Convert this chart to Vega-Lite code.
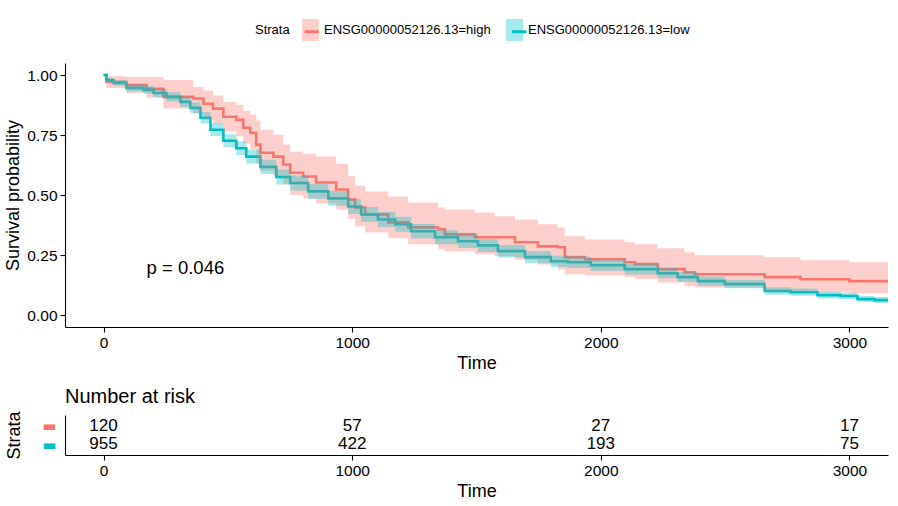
{
  "$schema": "https://vega.github.io/schema/vega-lite/v6.json",
  "background": "white",
  "padding": {"left": 4, "top": 19, "right": 8, "bottom": 5},
  "config": {
    "font": "Liberation Sans",
    "view": {"stroke": null},
    "axis": {"domainColor": "black", "tickColor": "black", "labelColor": "black", "titleColor": "black", "grid": false, "labelFont": "Liberation Sans", "titleFont": "Liberation Sans", "labelFontSize": 15.5, "titleFontSize": 18, "titleFontWeight": "normal", "tickSize": 5, "domainWidth": 1.1, "tickWidth": 1.1, "labelPadding": 3},
    "legend": {"labelFont": "Liberation Sans", "titleFont": "Liberation Sans"},
    "title": {"font": "Liberation Sans"}
  },
  "resolve": {"scale": {"fill": "independent", "stroke": "independent"}},
  "spacing": 13,
  "datasets": {
    "curves": [
      {"strata": "ENSG00000052126.13=high", "time": 0, "surv": 1.0},
      {"strata": "ENSG00000052126.13=high", "time": 12, "surv": 0.971},
      {"strata": "ENSG00000052126.13=high", "time": 92, "surv": 0.958},
      {"strata": "ENSG00000052126.13=high", "time": 173, "surv": 0.942},
      {"strata": "ENSG00000052126.13=high", "time": 241, "surv": 0.909},
      {"strata": "ENSG00000052126.13=high", "time": 361, "surv": 0.902},
      {"strata": "ENSG00000052126.13=high", "time": 402, "surv": 0.880},
      {"strata": "ENSG00000052126.13=high", "time": 440, "surv": 0.860},
      {"strata": "ENSG00000052126.13=high", "time": 482, "surv": 0.826},
      {"strata": "ENSG00000052126.13=high", "time": 534, "surv": 0.813},
      {"strata": "ENSG00000052126.13=high", "time": 562, "surv": 0.780},
      {"strata": "ENSG00000052126.13=high", "time": 590, "surv": 0.759},
      {"strata": "ENSG00000052126.13=high", "time": 614, "surv": 0.710},
      {"strata": "ENSG00000052126.13=high", "time": 631, "surv": 0.676},
      {"strata": "ENSG00000052126.13=high", "time": 683, "surv": 0.660},
      {"strata": "ENSG00000052126.13=high", "time": 723, "surv": 0.627},
      {"strata": "ENSG00000052126.13=high", "time": 751, "surv": 0.593},
      {"strata": "ENSG00000052126.13=high", "time": 803, "surv": 0.577},
      {"strata": "ENSG00000052126.13=high", "time": 855, "surv": 0.552},
      {"strata": "ENSG00000052126.13=high", "time": 936, "surv": 0.523},
      {"strata": "ENSG00000052126.13=high", "time": 984, "surv": 0.481},
      {"strata": "ENSG00000052126.13=high", "time": 1012, "surv": 0.448},
      {"strata": "ENSG00000052126.13=high", "time": 1052, "surv": 0.419},
      {"strata": "ENSG00000052126.13=high", "time": 1145, "surv": 0.386},
      {"strata": "ENSG00000052126.13=high", "time": 1225, "surv": 0.365},
      {"strata": "ENSG00000052126.13=high", "time": 1345, "surv": 0.357},
      {"strata": "ENSG00000052126.13=high", "time": 1373, "surv": 0.336},
      {"strata": "ENSG00000052126.13=high", "time": 1494, "surv": 0.324},
      {"strata": "ENSG00000052126.13=high", "time": 1655, "surv": 0.303},
      {"strata": "ENSG00000052126.13=high", "time": 1747, "surv": 0.286},
      {"strata": "ENSG00000052126.13=high", "time": 1827, "surv": 0.282},
      {"strata": "ENSG00000052126.13=high", "time": 1855, "surv": 0.241},
      {"strata": "ENSG00000052126.13=high", "time": 1936, "surv": 0.232},
      {"strata": "ENSG00000052126.13=high", "time": 2096, "surv": 0.220},
      {"strata": "ENSG00000052126.13=high", "time": 2137, "surv": 0.212},
      {"strata": "ENSG00000052126.13=high", "time": 2229, "surv": 0.191},
      {"strata": "ENSG00000052126.13=high", "time": 2337, "surv": 0.178},
      {"strata": "ENSG00000052126.13=high", "time": 2378, "surv": 0.170},
      {"strata": "ENSG00000052126.13=high", "time": 2659, "surv": 0.158},
      {"strata": "ENSG00000052126.13=high", "time": 2803, "surv": 0.149},
      {"strata": "ENSG00000052126.13=high", "time": 3000, "surv": 0.141},
      {"strata": "ENSG00000052126.13=high", "time": 3155, "surv": 0.141},
      {"strata": "ENSG00000052126.13=low", "time": 0, "surv": 1.0},
      {"strata": "ENSG00000052126.13=low", "time": 12, "surv": 0.979},
      {"strata": "ENSG00000052126.13=low", "time": 40, "surv": 0.967},
      {"strata": "ENSG00000052126.13=low", "time": 92, "surv": 0.946},
      {"strata": "ENSG00000052126.13=low", "time": 161, "surv": 0.938},
      {"strata": "ENSG00000052126.13=low", "time": 201, "surv": 0.925},
      {"strata": "ENSG00000052126.13=low", "time": 253, "surv": 0.909},
      {"strata": "ENSG00000052126.13=low", "time": 309, "surv": 0.888},
      {"strata": "ENSG00000052126.13=low", "time": 349, "surv": 0.863},
      {"strata": "ENSG00000052126.13=low", "time": 390, "surv": 0.822},
      {"strata": "ENSG00000052126.13=low", "time": 430, "surv": 0.772},
      {"strata": "ENSG00000052126.13=low", "time": 482, "surv": 0.726},
      {"strata": "ENSG00000052126.13=low", "time": 534, "surv": 0.695},
      {"strata": "ENSG00000052126.13=low", "time": 574, "surv": 0.660},
      {"strata": "ENSG00000052126.13=low", "time": 631, "surv": 0.617},
      {"strata": "ENSG00000052126.13=low", "time": 695, "surv": 0.575},
      {"strata": "ENSG00000052126.13=low", "time": 751, "surv": 0.550},
      {"strata": "ENSG00000052126.13=low", "time": 823, "surv": 0.515},
      {"strata": "ENSG00000052126.13=low", "time": 904, "surv": 0.486},
      {"strata": "ENSG00000052126.13=low", "time": 984, "surv": 0.452},
      {"strata": "ENSG00000052126.13=low", "time": 1036, "surv": 0.419},
      {"strata": "ENSG00000052126.13=low", "time": 1104, "surv": 0.398},
      {"strata": "ENSG00000052126.13=low", "time": 1173, "surv": 0.378},
      {"strata": "ENSG00000052126.13=low", "time": 1237, "surv": 0.349},
      {"strata": "ENSG00000052126.13=low", "time": 1333, "surv": 0.324},
      {"strata": "ENSG00000052126.13=low", "time": 1426, "surv": 0.307},
      {"strata": "ENSG00000052126.13=low", "time": 1506, "surv": 0.290},
      {"strata": "ENSG00000052126.13=low", "time": 1586, "surv": 0.266},
      {"strata": "ENSG00000052126.13=low", "time": 1695, "surv": 0.241},
      {"strata": "ENSG00000052126.13=low", "time": 1799, "surv": 0.224},
      {"strata": "ENSG00000052126.13=low", "time": 1867, "surv": 0.220},
      {"strata": "ENSG00000052126.13=low", "time": 1960, "surv": 0.207},
      {"strata": "ENSG00000052126.13=low", "time": 2096, "surv": 0.191},
      {"strata": "ENSG00000052126.13=low", "time": 2229, "surv": 0.174},
      {"strata": "ENSG00000052126.13=low", "time": 2309, "surv": 0.158},
      {"strata": "ENSG00000052126.13=low", "time": 2390, "surv": 0.141},
      {"strata": "ENSG00000052126.13=low", "time": 2498, "surv": 0.129},
      {"strata": "ENSG00000052126.13=low", "time": 2659, "surv": 0.100},
      {"strata": "ENSG00000052126.13=low", "time": 2763, "surv": 0.095},
      {"strata": "ENSG00000052126.13=low", "time": 2871, "surv": 0.083},
      {"strata": "ENSG00000052126.13=low", "time": 2964, "surv": 0.079},
      {"strata": "ENSG00000052126.13=low", "time": 3032, "surv": 0.066},
      {"strata": "ENSG00000052126.13=low", "time": 3100, "surv": 0.062},
      {"strata": "ENSG00000052126.13=low", "time": 3155, "surv": 0.058}
    ],
    "bands": [
      {"strata": "ENSG00000052126.13=high", "time": 0, "lower": 1.0, "upper": 1.0},
      {"strata": "ENSG00000052126.13=high", "time": 12, "lower": 0.946, "upper": 0.995},
      {"strata": "ENSG00000052126.13=high", "time": 92, "lower": 0.925, "upper": 0.992},
      {"strata": "ENSG00000052126.13=high", "time": 173, "lower": 0.905, "upper": 0.992},
      {"strata": "ENSG00000052126.13=high", "time": 241, "lower": 0.860, "upper": 0.979},
      {"strata": "ENSG00000052126.13=high", "time": 361, "lower": 0.840, "upper": 0.950},
      {"strata": "ENSG00000052126.13=high", "time": 402, "lower": 0.815, "upper": 0.935},
      {"strata": "ENSG00000052126.13=high", "time": 440, "lower": 0.795, "upper": 0.915},
      {"strata": "ENSG00000052126.13=high", "time": 482, "lower": 0.765, "upper": 0.888},
      {"strata": "ENSG00000052126.13=high", "time": 534, "lower": 0.745, "upper": 0.876},
      {"strata": "ENSG00000052126.13=high", "time": 562, "lower": 0.715, "upper": 0.850},
      {"strata": "ENSG00000052126.13=high", "time": 590, "lower": 0.690, "upper": 0.835},
      {"strata": "ENSG00000052126.13=high", "time": 614, "lower": 0.630, "upper": 0.810},
      {"strata": "ENSG00000052126.13=high", "time": 631, "lower": 0.600, "upper": 0.772},
      {"strata": "ENSG00000052126.13=high", "time": 683, "lower": 0.580, "upper": 0.751},
      {"strata": "ENSG00000052126.13=high", "time": 723, "lower": 0.545, "upper": 0.710},
      {"strata": "ENSG00000052126.13=high", "time": 751, "lower": 0.500, "upper": 0.680},
      {"strata": "ENSG00000052126.13=high", "time": 803, "lower": 0.485, "upper": 0.672},
      {"strata": "ENSG00000052126.13=high", "time": 855, "lower": 0.465, "upper": 0.660},
      {"strata": "ENSG00000052126.13=high", "time": 936, "lower": 0.440, "upper": 0.630},
      {"strata": "ENSG00000052126.13=high", "time": 984, "lower": 0.400, "upper": 0.580},
      {"strata": "ENSG00000052126.13=high", "time": 1012, "lower": 0.370, "upper": 0.540},
      {"strata": "ENSG00000052126.13=high", "time": 1052, "lower": 0.344, "upper": 0.515},
      {"strata": "ENSG00000052126.13=high", "time": 1145, "lower": 0.320, "upper": 0.494},
      {"strata": "ENSG00000052126.13=high", "time": 1225, "lower": 0.295, "upper": 0.469},
      {"strata": "ENSG00000052126.13=high", "time": 1345, "lower": 0.275, "upper": 0.448},
      {"strata": "ENSG00000052126.13=high", "time": 1373, "lower": 0.266, "upper": 0.440},
      {"strata": "ENSG00000052126.13=high", "time": 1494, "lower": 0.253, "upper": 0.427},
      {"strata": "ENSG00000052126.13=high", "time": 1574, "lower": 0.245, "upper": 0.411},
      {"strata": "ENSG00000052126.13=high", "time": 1655, "lower": 0.230, "upper": 0.398},
      {"strata": "ENSG00000052126.13=high", "time": 1747, "lower": 0.210, "upper": 0.378},
      {"strata": "ENSG00000052126.13=high", "time": 1827, "lower": 0.190, "upper": 0.365},
      {"strata": "ENSG00000052126.13=high", "time": 1855, "lower": 0.170, "upper": 0.328},
      {"strata": "ENSG00000052126.13=high", "time": 1936, "lower": 0.165, "upper": 0.315},
      {"strata": "ENSG00000052126.13=high", "time": 2096, "lower": 0.158, "upper": 0.303},
      {"strata": "ENSG00000052126.13=high", "time": 2137, "lower": 0.150, "upper": 0.295},
      {"strata": "ENSG00000052126.13=high", "time": 2229, "lower": 0.135, "upper": 0.278},
      {"strata": "ENSG00000052126.13=high", "time": 2337, "lower": 0.120, "upper": 0.261},
      {"strata": "ENSG00000052126.13=high", "time": 2378, "lower": 0.115, "upper": 0.249},
      {"strata": "ENSG00000052126.13=high", "time": 2659, "lower": 0.100, "upper": 0.241},
      {"strata": "ENSG00000052126.13=high", "time": 2803, "lower": 0.095, "upper": 0.228},
      {"strata": "ENSG00000052126.13=high", "time": 3000, "lower": 0.091, "upper": 0.220},
      {"strata": "ENSG00000052126.13=high", "time": 3155, "lower": 0.091, "upper": 0.220},
      {"strata": "ENSG00000052126.13=low", "time": 0, "lower": 1.0, "upper": 1.0},
      {"strata": "ENSG00000052126.13=low", "time": 12, "lower": 0.970, "upper": 0.988},
      {"strata": "ENSG00000052126.13=low", "time": 40, "lower": 0.955, "upper": 0.978},
      {"strata": "ENSG00000052126.13=low", "time": 92, "lower": 0.932, "upper": 0.960},
      {"strata": "ENSG00000052126.13=low", "time": 161, "lower": 0.922, "upper": 0.954},
      {"strata": "ENSG00000052126.13=low", "time": 201, "lower": 0.908, "upper": 0.942},
      {"strata": "ENSG00000052126.13=low", "time": 253, "lower": 0.890, "upper": 0.928},
      {"strata": "ENSG00000052126.13=low", "time": 309, "lower": 0.867, "upper": 0.909},
      {"strata": "ENSG00000052126.13=low", "time": 349, "lower": 0.841, "upper": 0.885},
      {"strata": "ENSG00000052126.13=low", "time": 390, "lower": 0.798, "upper": 0.846},
      {"strata": "ENSG00000052126.13=low", "time": 430, "lower": 0.746, "upper": 0.798},
      {"strata": "ENSG00000052126.13=low", "time": 482, "lower": 0.699, "upper": 0.753},
      {"strata": "ENSG00000052126.13=low", "time": 534, "lower": 0.667, "upper": 0.723},
      {"strata": "ENSG00000052126.13=low", "time": 574, "lower": 0.631, "upper": 0.689},
      {"strata": "ENSG00000052126.13=low", "time": 631, "lower": 0.587, "upper": 0.647},
      {"strata": "ENSG00000052126.13=low", "time": 695, "lower": 0.544, "upper": 0.606},
      {"strata": "ENSG00000052126.13=low", "time": 751, "lower": 0.519, "upper": 0.581},
      {"strata": "ENSG00000052126.13=low", "time": 823, "lower": 0.484, "upper": 0.546},
      {"strata": "ENSG00000052126.13=low", "time": 904, "lower": 0.455, "upper": 0.517},
      {"strata": "ENSG00000052126.13=low", "time": 984, "lower": 0.421, "upper": 0.483},
      {"strata": "ENSG00000052126.13=low", "time": 1036, "lower": 0.388, "upper": 0.450},
      {"strata": "ENSG00000052126.13=low", "time": 1104, "lower": 0.367, "upper": 0.429},
      {"strata": "ENSG00000052126.13=low", "time": 1173, "lower": 0.347, "upper": 0.409},
      {"strata": "ENSG00000052126.13=low", "time": 1237, "lower": 0.319, "upper": 0.379},
      {"strata": "ENSG00000052126.13=low", "time": 1333, "lower": 0.295, "upper": 0.353},
      {"strata": "ENSG00000052126.13=low", "time": 1426, "lower": 0.279, "upper": 0.335},
      {"strata": "ENSG00000052126.13=low", "time": 1506, "lower": 0.263, "upper": 0.317},
      {"strata": "ENSG00000052126.13=low", "time": 1586, "lower": 0.240, "upper": 0.292},
      {"strata": "ENSG00000052126.13=low", "time": 1695, "lower": 0.216, "upper": 0.266},
      {"strata": "ENSG00000052126.13=low", "time": 1799, "lower": 0.200, "upper": 0.248},
      {"strata": "ENSG00000052126.13=low", "time": 1867, "lower": 0.196, "upper": 0.244},
      {"strata": "ENSG00000052126.13=low", "time": 1960, "lower": 0.184, "upper": 0.230},
      {"strata": "ENSG00000052126.13=low", "time": 2096, "lower": 0.169, "upper": 0.213},
      {"strata": "ENSG00000052126.13=low", "time": 2229, "lower": 0.153, "upper": 0.195},
      {"strata": "ENSG00000052126.13=low", "time": 2309, "lower": 0.138, "upper": 0.178},
      {"strata": "ENSG00000052126.13=low", "time": 2390, "lower": 0.122, "upper": 0.160},
      {"strata": "ENSG00000052126.13=low", "time": 2498, "lower": 0.111, "upper": 0.147},
      {"strata": "ENSG00000052126.13=low", "time": 2659, "lower": 0.084, "upper": 0.116},
      {"strata": "ENSG00000052126.13=low", "time": 2763, "lower": 0.080, "upper": 0.110},
      {"strata": "ENSG00000052126.13=low", "time": 2871, "lower": 0.069, "upper": 0.097},
      {"strata": "ENSG00000052126.13=low", "time": 2964, "lower": 0.066, "upper": 0.093},
      {"strata": "ENSG00000052126.13=low", "time": 3032, "lower": 0.054, "upper": 0.079},
      {"strata": "ENSG00000052126.13=low", "time": 3100, "lower": 0.050, "upper": 0.075},
      {"strata": "ENSG00000052126.13=low", "time": 3155, "lower": 0.047, "upper": 0.071}
    ],
    "risk": [
      {"strata": "ENSG00000052126.13=high", "time": 0, "n": 120},
      {"strata": "ENSG00000052126.13=high", "time": 1000, "n": 57},
      {"strata": "ENSG00000052126.13=high", "time": 2000, "n": 27},
      {"strata": "ENSG00000052126.13=high", "time": 3000, "n": 17},
      {"strata": "ENSG00000052126.13=low", "time": 0, "n": 955},
      {"strata": "ENSG00000052126.13=low", "time": 1000, "n": 422},
      {"strata": "ENSG00000052126.13=low", "time": 2000, "n": 193},
      {"strata": "ENSG00000052126.13=low", "time": 3000, "n": 75}
    ],
    "pval": [{"time": 173, "surv": 0.195, "label": "p = 0.046"}]
  },
  "vconcat": [
    {
      "width": 823,
      "height": 264,
      "layer": [
        {
          "data": {"name": "curves"},
          "mark": {"type": "line", "interpolate": "step-after", "strokeWidth": 2.6, "clip": true},
          "encoding": {
            "x": {"field": "time", "type": "quantitative", "scale": {"domain": [-155, 3155], "nice": false, "zero": false}, "axis": {"values": [0, 1000, 2000, 3000], "format": "d", "title": "Time", "labelFlush": false}},
            "y": {"field": "surv", "type": "quantitative", "scale": {"domain": [-0.05, 1.05], "nice": false, "zero": false}, "axis": {"values": [0, 0.25, 0.5, 0.75, 1], "format": ".2f", "title": "Survival probability", "titlePadding": 4}},
            "stroke": {"field": "strata", "type": "nominal", "scale": {"range": ["#F8766D", "#00BFC4"]},
              "legend": {"title": null, "orient": "none", "direction": "horizontal", "legendX": 234.2, "legendY": -44, "labelExpr": "''", "labelFontSize": 13, "labelOffset": 2.5, "columnPadding": 178.6, "symbolType": "M-0.65,0H0.65", "symbolSize": 484, "symbolStrokeWidth": 3, "symbolFillColor": "transparent", "symbolOpacity": 1}}
          }
        },
        {
          "data": {"name": "bands"},
          "mark": {"type": "area", "interpolate": "step-after", "opacity": 0.35, "clip": true},
          "encoding": {
            "x": {"field": "time", "type": "quantitative", "title": "Time"},
            "y": {"field": "lower", "type": "quantitative", "title": "Survival probability"},
            "y2": {"field": "upper"},
            "fill": {"field": "strata", "type": "nominal", "scale": {"range": ["#F8766D", "#00BFC4"]},
              "legend": {"title": "Strata", "orient": "none", "direction": "horizontal", "legendX": 190, "legendY": -44, "titleOrient": "left", "titleFontSize": 13, "titleFontWeight": "normal", "titleColor": "black", "titlePadding": 9.5, "titleBaseline": "middle", "titleAnchor": "middle", "labelFontSize": 13, "labelLimit": 400, "labelColor": "black", "labelOffset": 2.5, "columnPadding": 12, "symbolType": "M-0.77,-1H0.77V1H-0.77Z", "symbolSize": 484, "symbolStrokeWidth": 0, "symbolOpacity": 0.35}}
          }
        },
        {
          "data": {"name": "pval"},
          "mark": {"type": "text", "align": "left", "baseline": "middle", "fontSize": 18.5, "font": "Liberation Sans", "color": "black"},
          "encoding": {
            "x": {"field": "time", "type": "quantitative", "title": "Time"},
            "y": {"field": "surv", "type": "quantitative", "title": "Survival probability"},
            "text": {"field": "label"}
          }
        }
      ]
    },
    {
      "width": 823,
      "height": 40,
      "title": {"text": "Number at risk", "anchor": "start", "frame": "group", "fontSize": 20, "fontWeight": "normal", "color": "black", "offset": 4},
      "data": {"name": "risk"},
      "mark": {"type": "text", "fontSize": 17, "baseline": "middle", "font": "Liberation Sans", "color": "black"},
      "encoding": {
        "x": {"field": "time", "type": "quantitative", "scale": {"domain": [-155, 3155], "nice": false, "zero": false}, "axis": {"values": [0, 1000, 2000, 3000], "format": "d", "title": "Time", "labelFlush": false}},
        "y": {"field": "strata", "type": "nominal", "scale": {"type": "point", "padding": 0.61},
          "axis": {"title": "Strata", "ticks": false, "labelExpr": "'▬'", "labelFont": "DejaVu Sans", "labelFontSize": 15, "labelPadding": 9, "labelBaseline": "middle", "titlePadding": 18,
            "labelColor": {"condition": {"test": "datum.value === 'ENSG00000052126.13=high'", "value": "#F8766D"}, "value": "#00BFC4"}}},
        "text": {"field": "n", "type": "quantitative"}
      }
    }
  ]
}
